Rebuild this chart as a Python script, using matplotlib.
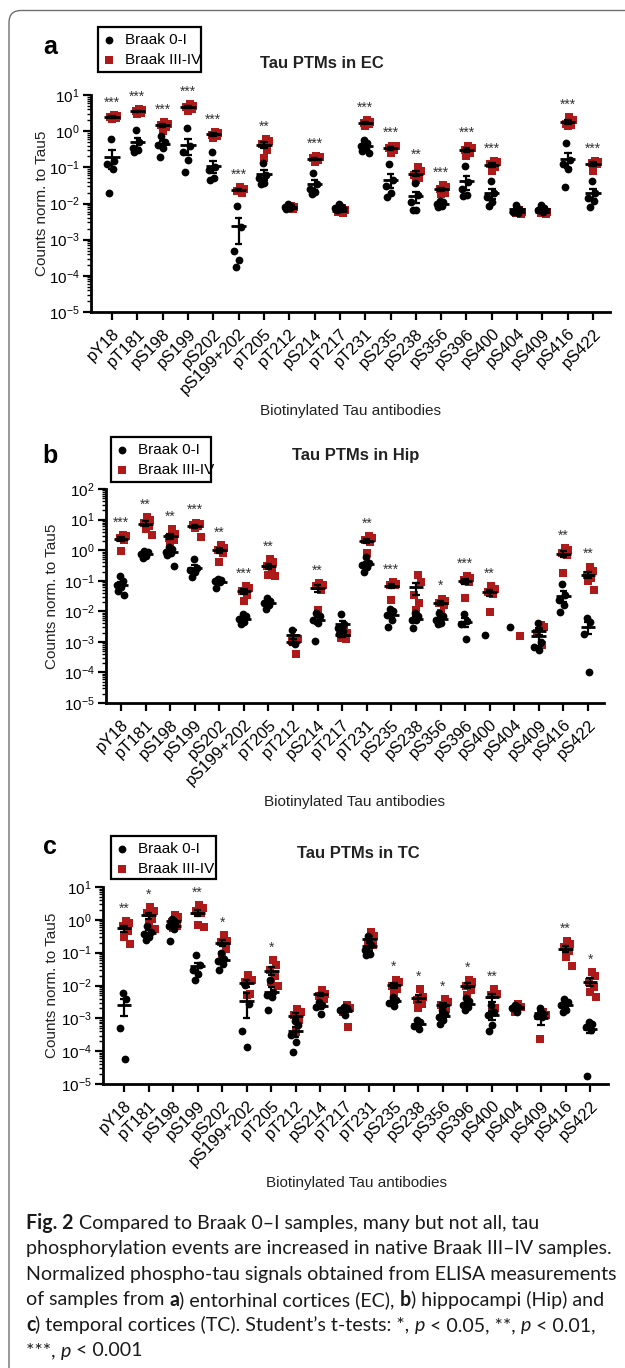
import numpy as np
import matplotlib
matplotlib.use("Agg")
import matplotlib.pyplot as plt
from matplotlib.patches import FancyBboxPatch, Rectangle
from matplotlib.lines import Line2D
from matplotlib.ticker import LogLocator, NullFormatter
from matplotlib.transforms import IdentityTransform

plt.rcParams["font.family"] = ["Liberation Sans", "DejaVu Sans"]
plt.rcParams["mathtext.default"] = "regular"

antibodies = ["pY18", "pT181", "pS198", "pS199", "pS202", "pS199+202", "pT205",
              "pT212", "pS214", "pT217", "pT231", "pS235", "pS238", "pS356",
              "pS396", "pS400", "pS404", "pS409", "pS416", "pS422"]

# ---------------- Panel a: EC ----------------
ec_braak_0_1 = [
    [0.6, 0.15, 0.12, 0.09, 0.019],
    [1.1, 0.5, 0.35, 0.3, 0.27],
    [0.74, 0.5, 0.42, 0.34, 0.19],
    [1.2, 0.4, 0.27, 0.16, 0.076],
    [0.27, 0.1, 0.085, 0.05, 0.045],
    [0.0085, 0.0023, 0.0005, 0.00027, 0.00017],
    [0.135, 0.06, 0.05, 0.038, 0.035],
    [0.0095, 0.0085, 0.008, 0.0075, 0.007],
    [0.07, 0.035, 0.025, 0.021, 0.018],
    [0.0095, 0.008, 0.0075, 0.007, 0.0065],
    [0.57, 0.46, 0.38, 0.34, 0.28, 0.25],
    [0.12, 0.045, 0.03, 0.02, 0.015],
    [0.037, 0.017, 0.011, 0.0068, 0.0067],
    [0.012, 0.011, 0.0095, 0.0088, 0.0078],
    [0.11, 0.04, 0.025, 0.017, 0.016],
    [0.042, 0.02, 0.015, 0.011, 0.0085],
    [0.009, 0.007, 0.006, 0.0055],
    [0.009, 0.0075, 0.0065, 0.006],
    [0.46, 0.16, 0.12, 0.09, 0.028],
    [0.042, 0.02, 0.014, 0.012, 0.0078],
]
ec_braak_3_4 = [
    [2.8, 2.6, 2.5, 2.3, 2.2],
    [4.0, 3.8, 3.5, 3.2, 3.0],
    [1.8, 1.6, 1.5, 1.3, 1.0],
    [5.5, 5.0, 4.8, 4.2, 3.5],
    [0.95, 0.9, 0.8, 0.75, 0.65],
    [0.028, 0.025, 0.022, 0.019],
    [0.6, 0.55, 0.45, 0.3, 0.18],
    [0.0085, 0.008, 0.0075, 0.007],
    [0.2, 0.19, 0.18, 0.16, 0.14],
    [0.0075, 0.0065, 0.006, 0.0055],
    [2.0, 1.8, 1.7, 1.6, 1.4],
    [0.4, 0.38, 0.35, 0.3, 0.25],
    [0.1, 0.08, 0.06, 0.05, 0.045],
    [0.032, 0.028, 0.025, 0.02, 0.018],
    [0.4, 0.35, 0.3, 0.25, 0.2],
    [0.15, 0.14, 0.12, 0.1, 0.078],
    [0.0065, 0.006, 0.0055, 0.005],
    [0.0065, 0.006, 0.0055, 0.005],
    [2.5, 2.0, 1.6, 1.5, 1.4],
    [0.15, 0.14, 0.13, 0.12, 0.08],
]
ec_stars = ["***", "***", "***", "***", "***", "***", "**", "", "***", "",
            "***", "***", "**", "***", "***", "***", "", "", "***", "***"]

# ---------------- Panel b: Hip ----------------
hip_braak_0_1 = [
    [0.14, 0.1, 0.07, 0.06, 0.045, 0.033],
    [0.95, 0.85, 0.75, 0.65, 0.55],
    [1.3, 1.1, 0.9, 0.8, 0.7, 0.31],
    [0.5, 0.26, 0.23, 0.2, 0.13],
    [0.115, 0.105, 0.095, 0.09, 0.057],
    [0.0082, 0.0069, 0.0055, 0.0046, 0.0038],
    [0.027, 0.022, 0.019, 0.016, 0.012],
    [0.0025, 0.00085],
    [0.0088, 0.0068, 0.0053, 0.0041, 0.0011],
    [0.0081, 0.0037, 0.0029, 0.0022, 0.0018],
    [0.58, 0.38, 0.33, 0.29, 0.2],
    [0.012, 0.01, 0.0075, 0.0053, 0.003],
    [0.0088, 0.0068, 0.0053, 0.0052, 0.0029],
    [0.0088, 0.0068, 0.0053, 0.0041, 0.0037],
    [0.0081, 0.0047, 0.0037, 0.0012],
    [0.0017],
    [0.003],
    [0.004, 0.001, 0.0007, 0.00055],
    [0.078, 0.035, 0.024, 0.016, 0.0095],
    [0.006, 0.0045, 0.0018, 0.0001],
]
hip_braak_3_4 = [
    [3.2, 2.8, 2.5, 2.1, 0.95],
    [12.0, 10.0, 8.0, 6.0, 5.0, 3.2],
    [4.8, 3.5, 2.5, 2.2, 1.7],
    [8.0, 7.2, 6.5, 6.0, 5.5, 2.7],
    [1.5, 1.2, 1.0, 0.8, 0.41],
    [0.065, 0.057, 0.047, 0.035, 0.022],
    [0.52, 0.4, 0.3, 0.25, 0.15, 0.14],
    [0.0013, 0.0012, 0.0011, 0.00041],
    [0.085, 0.075, 0.065, 0.05, 0.011],
    [0.0022, 0.002, 0.0013, 0.0012],
    [2.9, 2.5, 2.1, 1.8, 0.8],
    [0.09, 0.08, 0.074, 0.07, 0.024],
    [0.15, 0.09, 0.033, 0.019, 0.011],
    [0.026, 0.022, 0.019, 0.016, 0.009],
    [0.138, 0.122, 0.108, 0.09, 0.028],
    [0.065, 0.055, 0.042, 0.037, 0.0092],
    [0.0016],
    [0.0035, 0.003, 0.002, 0.0008],
    [1.2, 1.0, 0.8, 0.67, 0.18],
    [0.29, 0.21, 0.157, 0.122, 0.1, 0.05],
]
hip_stars = ["***", "**", "**", "***", "**", "***", "**", "", "**", "",
             "**", "***", "", "*", "***", "**", "", "", "**", "**"]

# ---------------- Panel c: TC ----------------
tc_braak_0_1 = [
    [0.0058, 0.0038, 0.0005, 0.000057],
    [0.67, 0.42, 0.37, 0.3, 0.25],
    [1.07, 0.85, 0.67, 0.53, 0.22],
    [0.082, 0.041, 0.029, 0.023, 0.015],
    [0.1, 0.065, 0.054, 0.046, 0.029],
    [0.0105, 0.0028, 0.0004, 0.00013],
    [0.015, 0.0063, 0.0052, 0.0044, 0.0018],
    [0.00084, 0.00063, 0.00032, 0.00019, 0.000095],
    [0.0031, 0.0026, 0.0022, 0.0014],
    [0.0022, 0.002, 0.0018, 0.0013],
    [0.33, 0.17, 0.12, 0.093, 0.082],
    [0.0044, 0.0037, 0.003, 0.0024],
    [0.00089, 0.00078, 0.0006, 0.00049],
    [0.0018, 0.0014, 0.0011, 0.00089, 0.00069],
    [0.0041, 0.0033, 0.0026, 0.0022, 0.0018],
    [0.0025, 0.0016, 0.0013, 0.00063, 0.00042],
    [0.0026, 0.0022, 0.002, 0.0016],
    [0.002, 0.0014, 0.0012, 0.0011],
    [0.0039, 0.0031, 0.0026, 0.0018, 0.0016],
    [0.00078, 0.00069, 0.00053, 0.00043, 0.000018],
]
tc_braak_3_4 = [
    [0.9, 0.8, 0.65, 0.45, 0.3, 0.18],
    [2.4, 1.9, 1.6, 1.07, 0.76, 0.53],
    [1.4, 1.2, 0.85, 0.67, 0.56],
    [2.9, 2.3, 1.9, 1.6, 0.7, 0.6],
    [0.35, 0.23, 0.21, 0.13, 0.083],
    [0.021, 0.015, 0.013, 0.0056, 0.005],
    [0.058, 0.041, 0.029, 0.02, 0.0128, 0.01],
    [0.0019, 0.0016, 0.0013, 0.00089, 0.00039],
    [0.0071, 0.0056, 0.0047, 0.0039],
    [0.0025, 0.002, 0.0016, 0.00055],
    [0.44, 0.33, 0.21, 0.17, 0.13],
    [0.0152, 0.0132, 0.01, 0.008, 0.0056],
    [0.0076, 0.0044, 0.0037, 0.0028, 0.0021],
    [0.0039, 0.0031, 0.0025, 0.0019, 0.0016],
    [0.015, 0.0126, 0.01, 0.0071, 0.005],
    [0.0076, 0.0056, 0.005, 0.002, 0.0016],
    [0.0028, 0.0022, 0.0016],
    [0.0016, 0.0013, 0.00024],
    [0.23, 0.19, 0.15, 0.11, 0.074, 0.039],
    [0.026, 0.02, 0.013, 0.009, 0.0063, 0.0044],
]
tc_stars = ["**", "*", "", "**", "*", "", "*", "", "", "",
            "", "*", "*", "*", "*", "**", "", "", "**", "*"]

group_labels = ["Braak 0-I", "Braak III-IV"]

RED = "#AE1A1A"
W, H = 625, 1368
fig = plt.figure(figsize=(W / 100, H / 100), dpi=100)


def fx(x):
    return x / W


def fy(y):
    return 1 - y / H


def rect(l, r, t, b):
    return [l / W, 1 - b / H, (r - l) / W, (b - t) / H]


SPREAD = np.array([0.0, 0.13, -0.13, 0.07, -0.07, 0.19, -0.19])


def draw_panel(ax, low, high, stars, ylims, xlims):
    n = len(antibodies)
    for i in range(n):
        groups = [(high[i], RED, "s", 0.07), (low[i], "black", "o", -0.05)]
        for vals, col, mk, ctr in groups:
            v = np.asarray(vals, float)
            offs = SPREAD[:len(v)] if len(v) > 1 else np.array([ctr * 2.5])
            ax.plot(i + ctr + offs, v, ls="none", marker=mk, ms=5.6,
                    mfc=col, mec=col, mew=0, zorder=3, clip_on=False)
        for vals in (high[i], low[i]):
            v = np.asarray(vals, float)
            if len(v) < 2:
                continue
            m = v.mean()
            s = v.std(ddof=1) / np.sqrt(len(v))
            lo = m - s if m - s > 0 else ylims[0]
            ax.plot([i - 0.3, i + 0.3], [m, m], color="black", lw=2.0, zorder=4,
                    solid_capstyle="butt")
            ax.plot([i, i], [lo, m + s], color="black", lw=1.6, zorder=4)
            ax.plot([i - 0.15, i + 0.15], [m + s, m + s], color="black", lw=1.6, zorder=4,
                    solid_capstyle="butt")
            if m - s > 0:
                ax.plot([i - 0.15, i + 0.15], [lo, lo], color="black", lw=1.6, zorder=4,
                        solid_capstyle="butt")
        if stars[i]:
            top = max(max(high[i]), max(low[i]))
            ax.annotate(stars[i], xy=(i, top), xytext=(0, 6), textcoords="offset points",
                        ha="center", va="baseline", fontsize=10, color="#333333")
    ax.set_yscale("log")
    ax.set_ylim(*ylims)
    ax.set_xlim(*xlims)
    ax.set_xticks(np.arange(n))
    ax.set_xticklabels(antibodies, rotation=45, ha="right", va="top",
                       rotation_mode="anchor", fontsize=12)
    ax.yaxis.set_major_locator(LogLocator(base=10, numticks=20))
    ax.yaxis.set_minor_locator(LogLocator(base=10, subs=np.arange(2, 10), numticks=200))
    ax.yaxis.set_minor_formatter(NullFormatter())
    ax.tick_params(axis="y", which="major", length=6, width=1.6, labelsize=11, pad=2)
    ax.tick_params(axis="y", which="minor", length=3, width=1.0)
    ax.tick_params(axis="x", length=6, width=1.6, pad=4)
    for sp in ("top", "right"):
        ax.spines[sp].set_visible(False)
    for sp in ("left", "bottom"):
        ax.spines[sp].set_linewidth(2.0)
    ax.patch.set_alpha(0)


def legend_box(l, t, r, b):
    fig.add_artist(Rectangle((fx(l), fy(b)), fx(r - l), (b - t) / H, transform=fig.transFigure,
                             fill=False, ec="black", lw=1.6))
    rows = [(t + 13, "o", "black", group_labels[0]), (t + 33, "s", RED, group_labels[1])]
    for yy, mk, col, lab in rows:
        fig.add_artist(Line2D([fx(l + 11)], [fy(yy)], transform=fig.transFigure, marker=mk,
                              ms=5.6, mfc=col, mec=col, mew=0, ls="none"))
        fig.text(fx(l + 27), fy(yy), lab, fontsize=11, va="center", ha="left")


panels = [
    dict(letter="a", title="Tau PTMs in EC", low=ec_braak_0_1, high=ec_braak_3_4, stars=ec_stars,
         box=(91, 610, 95, 312), ylims=(1e-5, 10), xlims=(-0.83, 19.67),
         letter_xy=(50, 47), title_xy=(322, 63), leg=(98, 27, 201, 72),
         ylab_xy=(42, 203), xlab_xy=(350, 411)),
    dict(letter="b", title="Tau PTMs in Hip", low=hip_braak_0_1, high=hip_braak_3_4, stars=hip_stars,
         box=(106, 604, 489, 703), ylims=(1e-5, 100), xlims=(-0.61, 19.65),
         letter_xy=(50, 456), title_xy=(356, 456), leg=(111, 437, 211, 482),
         ylab_xy=(52, 596), xlab_xy=(354, 802)),
    dict(letter="c", title="Tau PTMs in TC", low=tc_braak_0_1, high=tc_braak_3_4, stars=tc_stars,
         box=(103, 608, 887, 1084), ylims=(1e-5, 10), xlims=(-0.86, 19.73),
         letter_xy=(50, 847), title_xy=(358, 853), leg=(111, 836, 216, 879),
         ylab_xy=(52, 985), xlab_xy=(356, 1183)),
]

for p in panels:
    ax = fig.add_axes(rect(*p["box"]))
    draw_panel(ax, p["low"], p["high"], p["stars"], p["ylims"], p["xlims"])
    fig.text(fx(p["letter_xy"][0]), fy(p["letter_xy"][1]), p["letter"], fontsize=18,
             fontweight="bold", ha="center", va="center")
    fig.text(fx(p["title_xy"][0]), fy(p["title_xy"][1]), p["title"], fontsize=12,
             fontweight="bold", ha="center", va="center", color="#222222")
    legend_box(*p["leg"])
    fig.text(fx(p["ylab_xy"][0]), fy(p["ylab_xy"][1]), "Counts norm. to Tau5", fontsize=11,
             rotation=90, ha="center", va="center", color="#222222")
    fig.text(fx(p["xlab_xy"][0]), fy(p["xlab_xy"][1]), "Biotinylated Tau antibodies",
             fontsize=11, ha="center", va="center", color="#222222")

# outer rounded frame
fig.add_artist(FancyBboxPatch((9, -12), 650, H - 10 + 12 - 0.5 - 0, transform=IdentityTransform(),
                              boxstyle="round,pad=0,rounding_size=12", fill=False,
                              ec="#6f6f6f", lw=1.0))

# caption
cap_lines = [
    [("Fig. 2", "bold", "normal"), (" Compared to Braak 0\u2013I samples, many but not all, tau", "normal", "normal")],
    [("phosphorylation events are increased in native Braak III\u2013IV samples.", "normal", "normal")],
    [("Normalized phospho-tau signals obtained from ELISA measurements", "normal", "normal")],
    [("of samples from ", "normal", "normal"), ("a", "bold", "normal"),
     (") entorhinal cortices (EC), ", "normal", "normal"), ("b", "bold", "normal"),
     (") hippocampi (Hip) and", "normal", "normal")],
    [("c", "bold", "normal"), (") temporal cortices (TC). Student\u2019s t-tests: *, ", "normal", "normal"),
     ("p", "normal", "italic"), (" < 0.05, **, ", "normal", "normal"), ("p", "normal", "italic"),
     (" < 0.01,", "normal", "normal")],
    [("***, ", "normal", "normal"), ("p", "normal", "italic"), (" < 0.001", "normal", "normal")],
]
CAP_FONT = ["Lato", "DejaVu Sans"]
renderer = fig.canvas.get_renderer()


def text_width(s, size, weight, style):
    t = fig.text(0, 0, "x" + s + "x", fontsize=size, fontweight=weight, fontstyle=style,
                 family=CAP_FONT)
    t2 = fig.text(0, 0, "xx", fontsize=size, fontweight=weight, fontstyle=style, family=CAP_FONT)
    w = t.get_window_extent(renderer).width - t2.get_window_extent(renderer).width
    t.remove()
    t2.remove()
    return w


ref_w = text_width(cap_lines[2][0][0], 12, "normal", "normal")
cap_size = 12 * 590 / ref_w
x0, y0, dy = 26, 1223, 25.6
for k, line in enumerate(cap_lines):
    x = x0
    for s, wt, st in line:
        fig.text(fx(x), fy(y0 + k * dy), s, fontsize=cap_size, fontweight=wt, fontstyle=st,
                 family=CAP_FONT, ha="left", va="center", color="#1a1a1a")
        x += text_width(s, cap_size, wt, st)

fig.savefig("out.png", dpi=100)
